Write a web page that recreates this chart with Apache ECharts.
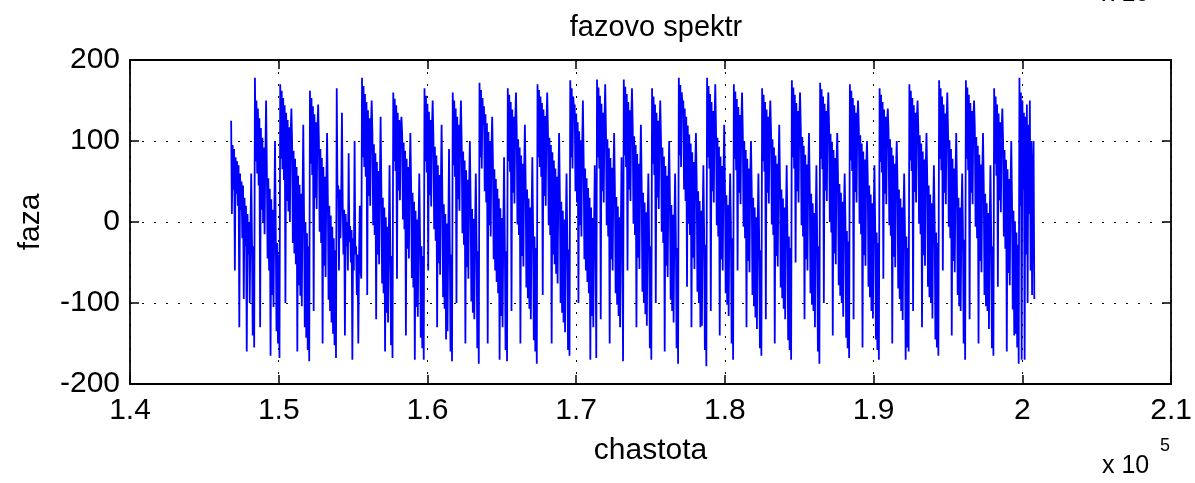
<!DOCTYPE html>
<html>
<head>
<meta charset="utf-8">
<title>fazovo spektr</title>
<script src="https://cdn.jsdelivr.net/npm/echarts@6/dist/echarts.min.js"></script>
<style>
  html, body { margin: 0; padding: 0; background: #fff; }
  #chart { width: 1195px; height: 483px; }
</style>
</head>
<body>
<div id="chart"></div>
<script>
// Frequency bins: first bin and bin width (Hz)
const freqStart = 146800;
const freqStep = 50;

// Phase values (degrees), one per frequency bin, written tooth by tooth
const phaseLead = [125,10, 95,40, 90,-60, 80,35, 75,20, 70,-130, 60,15, 50,-20, 45,-95, 30,-30, 20,-160, 10,-40, 0,-100, -10,60, -20,-140, -30,-155];
const phaseTeeth = [
  [178,75, 150,60, 140,45, 128,-130, 116,15, 104,0, 92,-15, 80,150, 67,-45, 54,-60, 41,-165, 28,-90, 15,-105, 2,100, -12,-135, -26,-150, -40,-168],
  [170,78, 162,65, 153,52, 144,-100, 135,26, 126,13, 117,0, 108,140, 98,-26, 88,-39, 78,-52, 68,-160, 57,-78, 46,-91, 35,-104, 24,120, 12,-130, 0,-143, -14,-158, -30,-172],
  [162,72, 153,58, 143,-110, 133,30, 123,16, 112,145, 101,-12, 90,-26, 79,-150, 68,-54, 56,-68, 44,110, 32,-96, 20,-110, 8,-124, -6,-138, -20,-152, -35,-168],
  [165,30, 45,-60, 40,-20, 30,135, 25,-40, 15,-140, 10,-30, 0,-60, 85,-25, -5,-50, -10,-170, -20,-60, 100,-40, -30,-90, -40,-150, -45,20, -60,-70],
  [178,80, 168,68, 158,56, 148,-90, 138,32, 128,20, 118,150, 107,-4, 96,-16, 85,-120, 74,-40, 63,-52, 52,130, 41,-76, 30,-88, 18,-160, 6,-112, -6,-124, -18,70, -30,-152, -42,-168],
  [160,75, 152,63, 144,-70, 135,39, 126,27, 117,130, 108,3, 98,-9, 88,-140, 78,-33, 68,-45, 58,110, 47,-69, 36,-81, 25,-170, 14,-105, 3,-117, -8,60, -19,-143, -30,-156, -42,-170],
  [165,75, 156,61, 146,-60, 136,33, 126,19, 115,150, 104,-9, 93,-23, 82,-130, 70,-51, 58,-65, 46,120, 34,-93, 22,-107, 10,-145, -2,-135, -14,90, -27,-160, -40,-172],
  [160,70, 150,56, 140,-100, 130,28, 120,14, 109,150, 98,-14, 87,-28, 76,-150, 64,-56, 52,-70, 40,100, 28,-98, 16,-112, 4,-120, -9,60, -22,-156, -36,-175],
  [172,80, 163,66, 153,120, 143,38, 133,24, 122,-150, 111,-4, 100,-18, 89,130, 77,-46, 65,-60, 53,-74, 41,-88, 29,-170, 17,-116, 5,-130, -8,80, -22,-158, -36,-172],
  [165,75, 157,62, 148,-110, 139,36, 130,23, 121,160, 112,-3, 102,-16, 92,-150, 82,-42, 72,-55, 62,120, 51,-81, 40,-94, 29,-107, 18,-120, 6,80, -6,-146, -18,-160, -32,-175],
  [170,80, 163,68, 155,56, 147,-90, 139,32, 131,20, 122,160, 113,-4, 104,-16, 95,-150, 86,-40, 76,-52, 66,-64, 56,-76, 46,110, 36,-100, 25,-112, 14,-124, 3,-136, -9,60, -21,-158, -34,-165],
  [175,80, 165,66, 155,140, 145,38, 134,24, 123,-100, 112,-4, 101,-18, 90,150, 78,-46, 66,-60, 54,-74, 42,-88, 30,-170, 18,-116, 5,-130, -8,70, -22,-168],
  [176,80, 166,66, 156,-120, 146,38, 135,24, 124,170, 113,-4, 102,-18, 91,-150, 79,-46, 67,-60, 55,110, 43,-88, 31,-102, 19,-116, 6,-130, -8,80, -22,-172],
  [176,82, 167,68, 158,-60, 148,40, 138,26, 128,165, 117,-2, 106,-16, 95,-130, 84,-44, 72,-58, 60,120, 48,-86, 36,-100, 24,-114, 12,-128, -1,60, -15,-156, -30,-170],
  [165,72, 155,58, 145,-100, 135,30, 125,16, 114,150, 103,-12, 92,-26, 81,-160, 69,-54, 57,-68, 45,100, 33,-96, 21,-110, 9,-124, -4,60, -18,-156, -32,-175],
  [178,82, 169,68, 160,140, 150,40, 140,26, 130,-80, 119,-2, 108,-16, 97,-130, 86,-44, 74,-58, 62,110, 50,-86, 38,-100, 26,-130, 14,-128, 1,70, -13,-158, -28,-178],
  [178,80, 168,66, 158,-110, 148,38, 137,24, 126,170, 115,-4, 104,-18, 93,-140, 81,-46, 69,-60, 57,120, 45,-88, 33,-102, 21,-116, 8,60, -6,-150, -20,-170],
  [170,78, 161,64, 152,-60, 142,36, 132,22, 122,160, 111,-6, 100,-20, 89,-130, 78,-48, 66,-62, 54,100, 42,-90, 30,-104, 18,-118, 6,-132, -7,60, -21,-156, -35,-165],
  [165,75, 157,62, 148,-120, 139,36, 130,23, 121,150, 112,-3, 102,-16, 92,-150, 82,-42, 72,-55, 62,120, 51,-81, 40,-94, 29,-107, 18,-120, 6,70, -6,-146, -18,-158, -32,-170],
  [175,80, 166,66, 157,-50, 147,38, 137,24, 127,160, 116,-4, 105,-18, 94,-120, 83,-46, 71,-60, 59,110, 47,-88, 35,-102, 23,-110, 11,-130, -2,70, -16,-160, -30,-175],
  [172,78, 164,65, 155,-100, 146,39, 137,26, 128,160, 119,0, 109,-13, 99,-140, 89,-39, 79,-52, 69,110, 58,-78, 47,-91, 36,-100, 25,-117, 13,60, 1,-143, -11,-156, -24,-168],
  [170,76, 162,63, 153,-120, 144,37, 135,24, 126,150, 117,-2, 107,-15, 97,-155, 87,-41, 77,-54, 67,100, 56,-80, 45,-93, 34,-110, 23,-119, 11,70, -1,-145, -13,-158, -26,-170],
  [165,74, 157,61, 148,-70, 139,35, 130,22, 121,140, 112,-4, 102,-17, 92,-150, 82,-43, 72,-56, 62,100, 51,-82, 40,-95, 29,-110, 18,-121, 6,60, -6,-170, -18,-155, -32,-160],
  [170,76, 162,63, 153,-110, 144,37, 135,24, 126,150, 117,-2, 107,-15, 97,-130, 87,-41, 77,-54, 67,110, 56,-80, 45,-93, 34,-100, 23,-119, 11,70, -1,-145, -13,-155, -26,-165],
  [175,78, 165,64, 155,-60, 145,36, 134,22, 123,160, 112,-6, 101,-20, 90,-140, 78,-48, 66,-62, 54,110, 42,-90, 30,-104, 18,-110, 5,60, -8,-150, -22,-170],
  [175,78, 166,64, 157,-120, 147,36, 137,22, 127,150, 116,-6, 105,-20, 94,-150, 83,-48, 71,-62, 59,110, 47,-90, 35,-104, 23,-110, 11,-132, -2,70, -16,-156, -30,-165],
  [165,72, 155,57, 145,-80, 134,27, 123,12, 112,140, 101,-18, 89,-33, 77,-160, 65,-63, 53,-78, 40,100, 27,-108, 14,-140, 1,-138, -13,-155, -28,-175],
  [178,20, 160,-170, 150,40, 135,-170, 130,-40, 145,-100, 120,10, 150,-60, 100,-90, 60,100, -95]
];

// Axis ticks and their labels
const xTicks = [140000, 150000, 160000, 170000, 180000, 190000, 200000, 210000];
const xTickLabels = ['1.4', '1.5', '1.6', '1.7', '1.8', '1.9', '2', '2.1'];
const yTicks = [-200, -100, 0, 100, 200];
const yTickLabels = ['-200', '-100', '0', '100', '200'];

const phase = phaseLead.concat(...phaseTeeth);
const points = phase.map((v, i) => [freqStart + i * freqStep, v]);

const FONT = '"Liberation Sans", Arial, sans-serif';
const gridStyle = { show: true, lineStyle: { color: '#000', width: 1, type: [2, 10] } };
const boxLine = { show: true, onZero: false, lineStyle: { color: '#000', width: 1.8 } };
const inTick = { show: true, inside: true, length: 9, lineStyle: { color: '#000', width: 1.5 } };

const chart = echarts.init(document.getElementById('chart'), null, { renderer: 'canvas' });

const xLabel = v => xTickLabels[xTicks.indexOf(v)] ?? '';
const yLabel = v => yTickLabels[yTicks.indexOf(v)] ?? '';

chart.setOption({
  animation: false,
  backgroundColor: '#fff',
  title: {
    text: 'fazovo spektr',
    left: 651, top: 8, textAlign: 'center',
    textStyle: { fontFamily: FONT, fontSize: 29, fontWeight: 'normal', color: '#000' }
  },
  grid: { left: 130, right: 22, top: 60, bottom: 99, containLabel: false },
  xAxis: [{
    type: 'value', min: 140000, max: 210000, interval: 10000,
    name: 'chastota', nameLocation: 'middle', nameGap: 52,
    nameTextStyle: { fontFamily: FONT, fontSize: 30, color: '#000' },
    axisLine: boxLine, axisTick: inTick,
    axisLabel: { formatter: xLabel, fontFamily: FONT, fontSize: 30, color: '#000', margin: 12 },
    splitLine: gridStyle
  }, {
    type: 'value', position: 'top', min: 140000, max: 210000, interval: 10000,
    axisLine: boxLine, axisTick: inTick,
    axisLabel: { show: false }, splitLine: { show: false }
  }],
  yAxis: [{
    type: 'value', min: -200, max: 200, interval: 100,
    name: 'faza', nameLocation: 'middle', nameGap: 84, nameRotate: 90,
    nameTextStyle: { fontFamily: FONT, fontSize: 30, color: '#000' },
    axisLine: boxLine, axisTick: inTick,
    axisLabel: { formatter: yLabel, fontFamily: FONT, fontSize: 30, color: '#000', margin: 10 },
    splitLine: gridStyle
  }, {
    type: 'value', position: 'right', min: -200, max: 200, interval: 100,
    axisLine: boxLine, axisTick: inTick,
    axisLabel: { show: false }, splitLine: { show: false }
  }],
  graphic: [
    // axis multiplier under the x axis
    { type: 'text', left: 1102, top: 454,
      style: { text: 'x 10', font: '25px ' + FONT, fill: '#000' } },
    { type: 'text', left: 1160, top: 437,
      style: { text: '5', font: '18px ' + FONT, fill: '#000' } },
    // multiplier of the panel above, cut by the top edge
    { type: 'text', left: 1102, top: -18,
      style: { text: 'x 10', font: '25px ' + FONT, fill: '#000' } },
    { type: 'text', left: 1160, top: -35,
      style: { text: '4', font: '18px ' + FONT, fill: '#000' } }
  ],
  series: [{
    type: 'line',
    xAxisIndex: 0, yAxisIndex: 0,
    data: points,
    showSymbol: false,
    symbol: 'none',
    sampling: null,
    large: false,
    progressive: 0,
    lineStyle: { color: '#0000ff', width: 1.8 },
    emphasis: { disabled: true },
    z: 3
  }]
});
</script>
</body>
</html>
